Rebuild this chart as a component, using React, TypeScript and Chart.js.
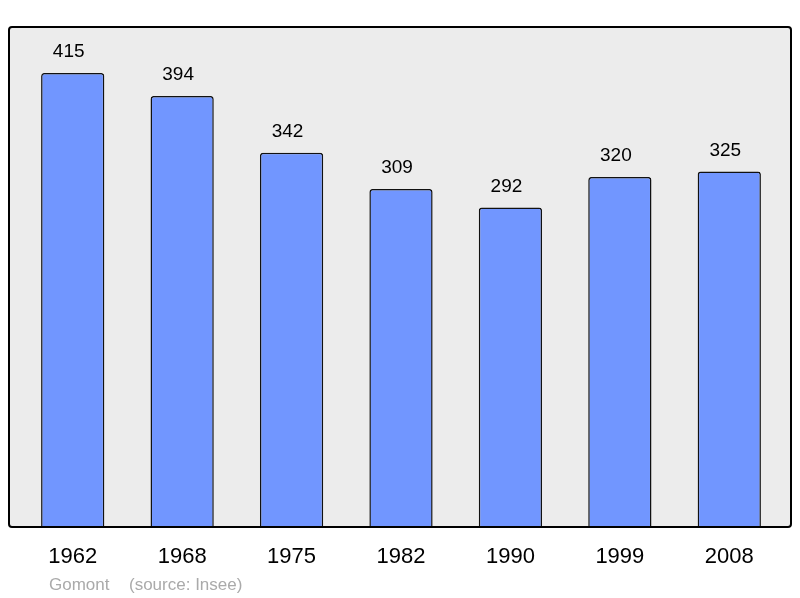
import React, { useEffect, useRef } from "react";
import { Chart, registerables } from "chart.js";

Chart.register(...registerables);

const years = ["1962", "1968", "1975", "1982", "1990", "1999", "2008"];
const population = [415, 394, 342, 309, 292, 320, 325];
const footerName = "Gomont";
const footerSource = "(source: Insee)";

function panelPath(ctx: any, x0: number, y0: number, x1: number, y1: number, r: number) {
  ctx.beginPath();
  ctx.moveTo(x0 + r, y0);
  ctx.lineTo(x1 - r, y0);
  ctx.quadraticCurveTo(x1, y0, x1, y0 + r);
  ctx.lineTo(x1, y1 - r);
  ctx.quadraticCurveTo(x1, y1, x1 - r, y1);
  ctx.lineTo(x0 + r, y1);
  ctx.quadraticCurveTo(x0, y1, x0, y1 - r);
  ctx.lineTo(x0, y0 + r);
  ctx.quadraticCurveTo(x0, y0, x0 + r, y0);
  ctx.closePath();
}

const panelPlugin = {
  id: "panel",
  beforeDraw(chart: any) {
    const ctx = chart.ctx;
    const { left, right, top, bottom } = chart.chartArea;
    ctx.save();
    panelPath(ctx, left - 9, top, right + 7, bottom, 3);
    ctx.fillStyle = "#ececec";
    ctx.fill();
    ctx.restore();
  },
  afterDatasetsDraw(chart: any) {
    const ctx = chart.ctx;
    const { left, right, top, bottom } = chart.chartArea;
    ctx.save();
    panelPath(ctx, left - 9, top, right + 7, bottom, 3);
    ctx.lineWidth = 2;
    ctx.strokeStyle = "#000";
    ctx.stroke();

    const meta = chart.getDatasetMeta(0);
    ctx.fillStyle = "#000";
    ctx.textAlign = "center";
    ctx.textBaseline = "middle";
    ctx.font = "19px 'Liberation Sans', Arial, sans-serif";
    meta.data.forEach((bar: any, i: number) => {
      ctx.fillText(String(population[i]), bar.x - 4, bar.y - 21);
    });
    ctx.font = "22px 'Liberation Sans', Arial, sans-serif";
    meta.data.forEach((bar: any, i: number) => {
      ctx.fillText(years[i], bar.x, bottom + 30);
    });
    ctx.fillStyle = "#aaaaaa";
    ctx.font = "17px 'Liberation Sans', Arial, sans-serif";
    ctx.textAlign = "left";
    ctx.fillText(footerName, 49, bottom + 58);
    ctx.fillText(footerSource, 129, bottom + 58);
    ctx.restore();
  },
};

export default function App() {
  const ref = useRef<HTMLCanvasElement>(null);
  useEffect(() => {
    document.body.style.margin = "0";
    const chart = new Chart(ref.current!, {
      type: "bar",
      data: {
        labels: years,
        datasets: [
          {
            data: population,
            backgroundColor: "#7196ff",
            borderColor: "#111",
            borderWidth: 1.5,
            borderRadius: 3,
            borderSkipped: "bottom",
            categoryPercentage: 1,
            barPercentage: 0.578,
          },
        ],
      },
      options: {
        responsive: false,
        animation: false,
        layout: { padding: { left: 18, right: 16, top: 27, bottom: 71 } },
        plugins: { legend: { display: false }, tooltip: { enabled: false } },
        scales: {
          x: { display: false },
          y: { display: false, min: 0, max: 457 },
        },
      },
      plugins: [panelPlugin],
    });
    return () => chart.destroy();
  }, []);
  return <canvas ref={ref} width={800} height={598} style={{ display: "block" }} />;
}
